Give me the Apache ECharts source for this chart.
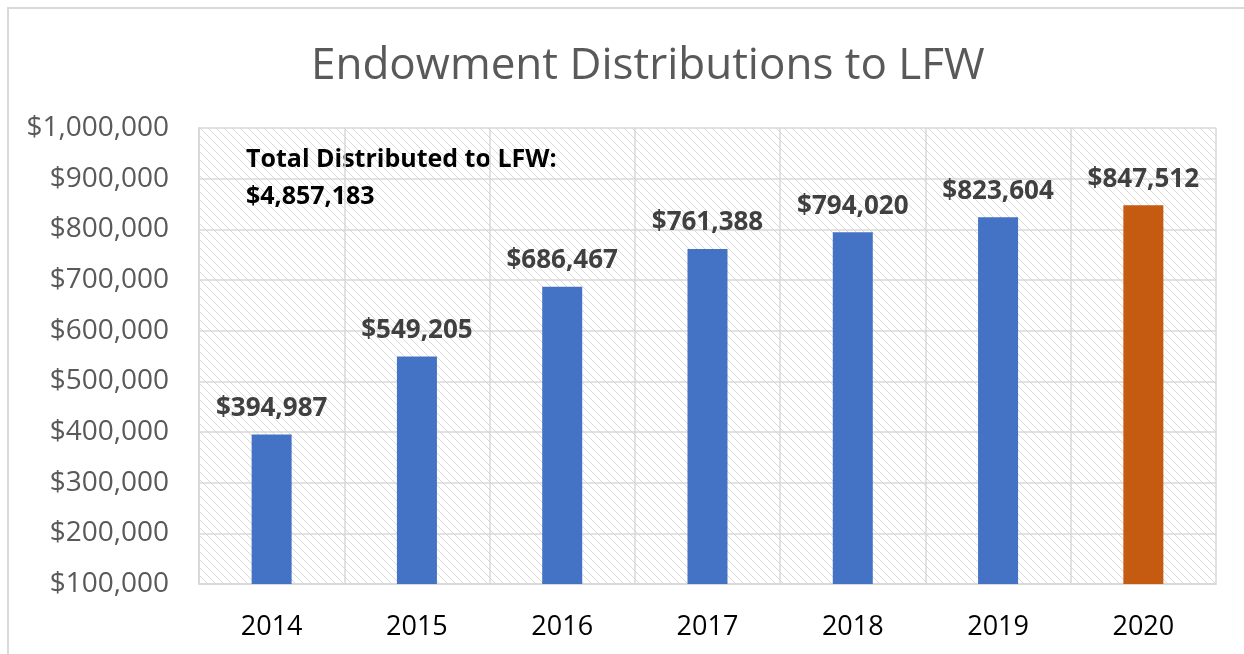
<!DOCTYPE html>
<html>
<head>
<meta charset="utf-8">
<script src="https://cdn.jsdelivr.net/npm/echarts@6/dist/echarts.min.js"></script>
<style>
  html, body { margin: 0; padding: 0; background: #fff; }
  #frame {
    position: absolute; left: 7px; top: 7px; width: 1250px; height: 660px;
    border-left: 2px solid #d9d9d9; border-top: 2px solid #d9d9d9;
  }
  #chart { position: absolute; left: 0; top: 0; width: 1244px; height: 654px; }
</style>
</head>
<body>
<div id="frame"></div>
<div id="chart"></div>
<script>
// data
const years = ['2014', '2015', '2016', '2017', '2018', '2019', '2020'];
const distributions = [394987, 549205, 686467, 761388, 794020, 823604, 847512];
const totalDistributed = 4857183;
const yTicks = { min: 100000, max: 1000000, step: 100000 };

function money(v) {
    return '$' + Number(v).toLocaleString('en-US');
}

// light diagonal hatch like the excel plot area fill
function makeHatch() {
    var c = document.createElement('canvas');
    c.width = 8; c.height = 8;
    var ctx = c.getContext('2d');
    ctx.fillStyle = '#ffffff';
    ctx.fillRect(0, 0, 8, 8);
    ctx.fillStyle = '#d9d9d9';
    for (var i = 0; i < 8; i++) {
        ctx.fillRect(i, i, 1, 1);
    }
    return c;
}

var myChart = echarts.init(document.getElementById('chart'), null, { renderer: 'canvas' });
var font = '"Open Sans", "Noto Sans", sans-serif';

var option = {
    animation: false,
    title: {
        text: 'Endowment Distributions to LFW',
        left: 306,
        top: 39,
        textStyle: { fontFamily: font, fontSize: 44, fontWeight: 'normal', color: '#595959' }
    },
    grid: {
        left: 199, right: 28, top: 128, bottom: 70,
        show: true,
        borderWidth: 0,
        backgroundColor: { image: makeHatch(), repeat: 'repeat' }
    },
    xAxis: {
        type: 'category',
        data: years,
        axisTick: { show: false },
        axisLine: { lineStyle: { color: '#d9d9d9', width: 2 } },
        splitLine: { show: true, lineStyle: { color: '#d9d9d9', width: 1.5 } },
        axisLabel: { fontFamily: font, fontSize: 27, color: '#000', margin: 30 }
    },
    yAxis: {
        type: 'value',
        min: yTicks.min,
        max: yTicks.max,
        interval: yTicks.step,
        axisLine: { show: true, lineStyle: { color: '#d9d9d9', width: 2 } },
        axisTick: { show: false },
        splitLine: { lineStyle: { color: '#d9d9d9', width: 1.5 } },
        axisLabel: { fontFamily: font, fontSize: 28, color: '#595959', margin: 30, formatter: money }
    },
    graphic: [{
        type: 'text',
        left: 246,
        top: 141,
        style: {
            text: 'Total Distributed to LFW:\n' + money(totalDistributed),
            fontFamily: font, fontSize: 25, fontWeight: 'bold', fill: '#000', lineHeight: 37
        }
    }],
    series: [{
        type: 'bar',
        data: distributions.map(function (v, i) {
            return {
                value: v,
                itemStyle: { color: i === distributions.length - 1 ? '#C55A11' : '#4472C4' }
            };
        }),
        barWidth: 40,
        label: {
            show: true,
            position: 'top',
            distance: 13,
            formatter: function (p) { return money(p.value); },
            fontFamily: font, fontSize: 26, fontWeight: 'bold', color: '#404040'
        }
    }]
};
myChart.setOption(option);
</script>
</body>
</html>
